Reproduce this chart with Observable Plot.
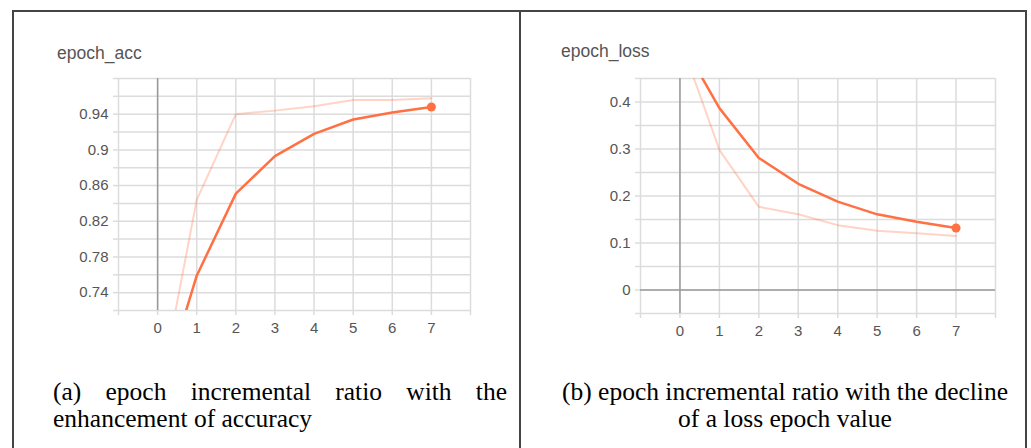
<!DOCTYPE html>
<html>
<head>
<meta charset="utf-8">
<script src="https://cdn.jsdelivr.net/npm/d3@7"></script>
<script src="https://cdn.jsdelivr.net/npm/@observablehq/plot@0.6"></script>
<style>
  html, body { margin: 0; padding: 0; background: #fff; width: 1031px; height: 448px; overflow: hidden; }
  .frame { position: absolute; left: 12px; top: 10px; width: 1011px; height: 460px; border: 2px solid #444; border-bottom: none; }
  .divider { position: absolute; left: 519px; top: 10px; width: 2px; height: 460px; background: #444; }
  .panel { position: absolute; top: 0; }
  .title { position: absolute; font-family: "Liberation Sans", Arial, sans-serif; font-size: 17.5px; color: #555; }
  .cap { position: absolute; font-family: "Liberation Serif", "Times New Roman", serif; font-size: 25.5px; color: #000; line-height: 27px; white-space: nowrap; }
</style>
</head>
<body>
<div class="frame"></div>
<div class="divider"></div>
<div id="left" class="panel" style="left:0px"></div>
<div id="right" class="panel" style="left:520px"></div>
<div class="title" style="left:57px; top:43px">epoch_acc</div>
<div class="title" style="left:561px; top:41px">epoch_loss</div>
<div class="cap" style="left:53px; top:378px; width:454px; text-align:justify; text-align-last:justify; white-space:normal">(a) epoch incremental ratio with the</div>
<div class="cap" style="left:53px; top:405px">enhancement of accuracy</div>
<div class="cap" style="left:545px; top:378px; width:480px; text-align:center">(b) epoch incremental ratio with the decline</div>
<div class="cap" style="left:545px; top:405px; width:480px; text-align:center">of a loss epoch value</div>
<script>
const epochs = [0, 1, 2, 3, 4, 5, 6, 7];
const accRaw = [0.615, 0.844, 0.940, 0.944, 0.949, 0.956, 0.956, 0.958];
const accSmooth = [0.615, 0.759, 0.851, 0.893, 0.918, 0.934, 0.942, 0.948];
const lossRaw = [0.534, 0.298, 0.177, 0.161, 0.138, 0.126, 0.121, 0.115];
const lossSmooth = [0.534, 0.387, 0.281, 0.226, 0.188, 0.161, 0.145, 0.132];

const xTicks = [0, 1, 2, 3, 4, 5, 6, 7];
const xGrid = [-1, 0, 1, 2, 3, 4, 5, 6, 7, 8];
const accTicks = [0.74, 0.78, 0.82, 0.86, 0.9, 0.94];
const accGrid = [0.72, 0.74, 0.76, 0.78, 0.8, 0.82, 0.84, 0.86, 0.88, 0.9, 0.92, 0.94, 0.96, 0.98];
const lossTicks = [0, 0.1, 0.2, 0.3, 0.4];
const lossGrid = [-0.05, 0, 0.05, 0.1, 0.15, 0.2, 0.25, 0.3, 0.35, 0.4, 0.45];

const ORANGE = "#ff7043";
const GRID = "#dcdcdc";
const AXIS = "#9a9a9a";
const fmt = d => String(+d.toFixed(2));

function chart({raw, smooth, yDomain, yTicks, yGrid, width, ml, mr, mb, zeroY}) {
  const rawData = epochs.map((e, i) => ({x: e, y: raw[i]}));
  const smData = epochs.map((e, i) => ({x: e, y: smooth[i]}));
  const last = smData[smData.length - 1];
  const marks = [
    Plot.ruleX(xGrid, {stroke: GRID, strokeWidth: 1.5}),
    Plot.ruleY(yGrid, {stroke: GRID, strokeWidth: 1.5}),
    Plot.axisX({ticks: xGrid, tickSize: 5, text: null, label: null, stroke: GRID, strokeWidth: 1.5}),
    Plot.axisY({ticks: yGrid, tickSize: 5, text: null, label: null, stroke: GRID, strokeWidth: 1.5}),
    Plot.axisX({ticks: xTicks, tickSize: 0, tickPadding: 12, label: null, tickFormat: d => String(d), fill: "#555", fontSize: 15}),
    Plot.axisY({ticks: yTicks, tickSize: 0, tickPadding: 10, label: null, tickFormat: fmt, fill: "#555", fontSize: 15}),
    Plot.ruleX([0], {stroke: AXIS, strokeWidth: 1.5})
  ];
  if (zeroY) marks.push(Plot.ruleY([0], {stroke: AXIS, strokeWidth: 1.5}));
  marks.push(
    Plot.line(rawData, {x: "x", y: "y", stroke: ORANGE, strokeOpacity: 0.3, strokeWidth: 2, clip: true}),
    Plot.line(smData, {x: "x", y: "y", stroke: ORANGE, strokeWidth: 2.5, clip: true}),
    Plot.dot([last], {x: "x", y: "y", fill: ORANGE, r: 4.5})
  );
  return Plot.plot({
    width, height: 345,
    marginLeft: ml, marginRight: mr, marginTop: 78, marginBottom: mb,
    style: {fontFamily: "'Liberation Sans', Arial, sans-serif", background: "transparent", overflow: "visible"},
    x: {domain: [-1, 8], axis: null, label: null},
    y: {domain: yDomain, axis: null, label: null},
    marks
  });
}

document.getElementById("left").appendChild(chart({
  raw: accRaw, smooth: accSmooth, yDomain: [0.72, 0.98], yTicks: accTicks, yGrid: accGrid,
  width: 519, ml: 118, mr: 49, mb: 35, zeroY: false
}));
document.getElementById("right").appendChild(chart({
  raw: lossRaw, smooth: lossSmooth, yDomain: [-0.05, 0.45], yTicks: lossTicks, yGrid: lossGrid,
  width: 511, ml: 120, mr: 36, mb: 32, zeroY: true
}));
</script>
</body>
</html>
